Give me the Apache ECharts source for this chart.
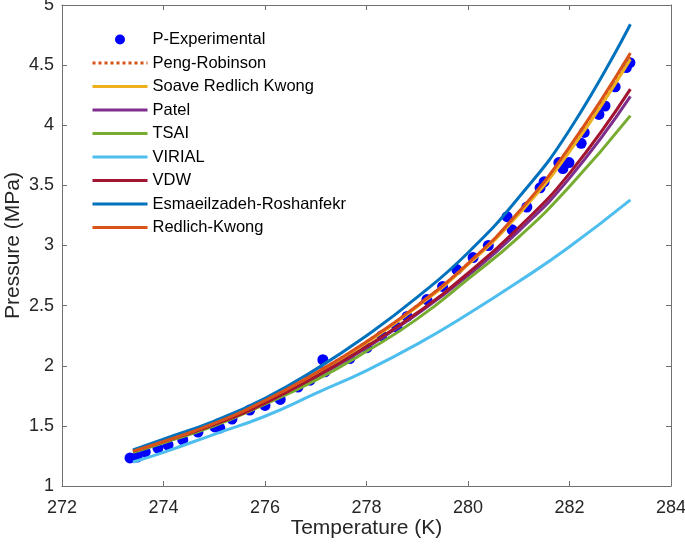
<!DOCTYPE html>
<html>
<head>
<meta charset="utf-8">
<script src="https://cdn.jsdelivr.net/npm/echarts@6/dist/echarts.min.js"></script>
<style>
html,body{margin:0;padding:0;background:#fff;}
#chart{width:685px;height:546px;}
</style>
</head>
<body>
<div id="chart"></div>
<script>
// ---- data ----
var expT = [273.34, 273.48, 273.64, 273.89, 274.09, 274.38, 274.68, 275.01, 275.11, 275.35,
            275.70, 276.00, 276.30, 276.65, 276.89, 277.14, 277.18, 277.67, 278.01, 278.30,
            278.60, 278.80, 279.19, 279.50, 279.78, 280.10, 280.40, 280.77, 280.87, 281.16,
            281.42, 281.50, 281.79, 281.87, 281.99, 282.23, 282.29, 282.58, 282.70, 282.90,
            283.12, 283.19];
var expP = [1.233, 1.241, 1.283, 1.316, 1.341, 1.383, 1.449, 1.491, 1.482, 1.557,
            1.632, 1.670, 1.720, 1.823, 1.880, 2.050, 1.950, 2.060, 2.150, 2.250,
            2.320, 2.410, 2.550, 2.660, 2.800, 2.900, 3.000, 3.240, 3.130, 3.320,
            3.480, 3.530, 3.690, 3.640, 3.690, 3.850, 3.940, 4.090, 4.160, 4.320,
            4.480, 4.520];
var modelT   = [273.4, 274, 275, 276, 277, 278, 279, 280, 281, 282, 283.2];
var pengRob  = [1.29, 1.37, 1.52, 1.71, 1.94, 2.20, 2.50, 2.85, 3.27, 3.80, 4.58];
var soaveRK  = [1.29, 1.37, 1.52, 1.70, 1.93, 2.19, 2.49, 2.84, 3.26, 3.78, 4.55];
var patel    = [1.29, 1.37, 1.51, 1.69, 1.90, 2.15, 2.43, 2.75, 3.12, 3.56, 4.24];
var tsai     = [1.28, 1.36, 1.50, 1.68, 1.88, 2.12, 2.39, 2.72, 3.07, 3.49, 4.08];
var virial   = [1.20, 1.28, 1.43, 1.58, 1.77, 1.96, 2.18, 2.43, 2.70, 2.99, 3.38];
var vdw      = [1.29, 1.37, 1.51, 1.69, 1.91, 2.16, 2.44, 2.77, 3.15, 3.60, 4.30];
var esmRosh  = [1.30, 1.39, 1.54, 1.73, 1.97, 2.25, 2.57, 2.94, 3.40, 3.96, 4.84];
var redKwong = [1.29, 1.37, 1.52, 1.71, 1.94, 2.20, 2.50, 2.85, 3.28, 3.82, 4.60];
var xTicks = [272, 274, 276, 278, 280, 282, 284];
var yTicks = [1, 1.5, 2, 2.5, 3, 3.5, 4, 4.5, 5];

function pairs(xs, ys){ return xs.map(function(x,i){ return [x, ys[i]]; }); }

var models = [
  {name:'Peng-Robinson', data:pengRob, color:'#D95319', type:'dotted'},
  {name:'Soave Redlich Kwong', data:soaveRK, color:'#EDB120', type:'solid'},
  {name:'Patel', data:patel, color:'#7E2F8E', type:'solid'},
  {name:'TSAI', data:tsai, color:'#77AC30', type:'solid'},
  {name:'VIRIAL', data:virial, color:'#4DBEEE', type:'solid'},
  {name:'VDW', data:vdw, color:'#A2142F', type:'solid'},
  {name:'Esmaeilzadeh-Roshanfekr', data:esmRosh, color:'#0072BD', type:'solid'},
  {name:'Redlich-Kwong', data:redKwong, color:'#D95319', type:'solid'}
];

var series = [{
  name:'P-Experimental', type:'scatter', xAxisIndex:0, yAxisIndex:0,
  data: pairs(expT, expP), symbol:'circle', symbolSize:11,
  itemStyle:{color:'#0000FF', opacity:1}
}];
models.forEach(function(m){
  series.push({
    name:m.name, type:'line', xAxisIndex:0, yAxisIndex:0,
    data: pairs(modelT, m.data), smooth:true, showSymbol:false, symbol:'none',
    lineStyle:{color:m.color, width:3, type:m.type}, itemStyle:{color:m.color}
  });
});

var axisCol = '#707070';
var txtCol = '#262626';
var font = 'Liberation Sans, Arial, sans-serif';
var xMin = xTicks[0], xMax = xTicks[xTicks.length-1];
var yMin = yTicks[0], yMax = yTicks[yTicks.length-1];

var chart = echarts.init(document.getElementById('chart'), null, {renderer:'canvas'});
chart.setOption({
  animation:false,
  backgroundColor:'#fff',
  grid:{left:62, right:14, top:5, bottom:60, containLabel:false, outerBoundsMode:'none'},
  legend:{
    orient:'vertical', left:86, top:26, itemWidth:55, itemHeight:10, itemGap:6.5,
    textStyle:{fontSize:16.5, color:'#000', fontFamily:font},
    lineStyle:{width:3},
    data:[{name:'P-Experimental', icon:'circle', itemStyle:{color:'#0000FF', opacity:1}}].concat(models.map(function(m){
      return {name:m.name, itemStyle:{opacity:0}};
    }))
  },
  xAxis:[{
    type:'value', min:xMin, max:xMax, interval:2, position:'bottom',
    name:'Temperature (K)', nameLocation:'middle', nameGap:32, nameMoveOverlap:false,
    nameTextStyle:{fontSize:21, color:txtCol, fontFamily:font},
    axisLine:{show:true, lineStyle:{color:axisCol, width:1}},
    axisTick:{show:true, inside:true, length:5, lineStyle:{color:axisCol}},
    axisLabel:{fontSize:18, color:txtCol, fontFamily:font, margin:13},
    splitLine:{show:false}
  },{
    type:'value', min:xMin, max:xMax, interval:2, position:'top',
    axisLine:{show:true, onZero:false, lineStyle:{color:axisCol, width:1}},
    axisTick:{show:true, inside:true, length:5, lineStyle:{color:axisCol}},
    axisLabel:{show:false}, splitLine:{show:false}
  }],
  yAxis:[{
    type:'value', min:yMin, max:yMax, interval:0.5, position:'left',
    name:'Pressure (MPa)', nameLocation:'middle', nameGap:38, nameMoveOverlap:false,
    nameTextStyle:{fontSize:21, color:txtCol, fontFamily:font},
    axisLine:{show:true, lineStyle:{color:axisCol, width:1}},
    axisTick:{show:true, inside:true, length:5, lineStyle:{color:axisCol}},
    axisLabel:{fontSize:18, color:txtCol, fontFamily:font, margin:8},
    splitLine:{show:false}
  },{
    type:'value', min:yMin, max:yMax, interval:0.5, position:'right',
    axisLine:{show:true, onZero:false, lineStyle:{color:axisCol, width:1}},
    axisTick:{show:true, inside:true, length:5, lineStyle:{color:axisCol}},
    axisLabel:{show:false}, splitLine:{show:false}
  }],
  series: series
});
</script>
</body>
</html>
